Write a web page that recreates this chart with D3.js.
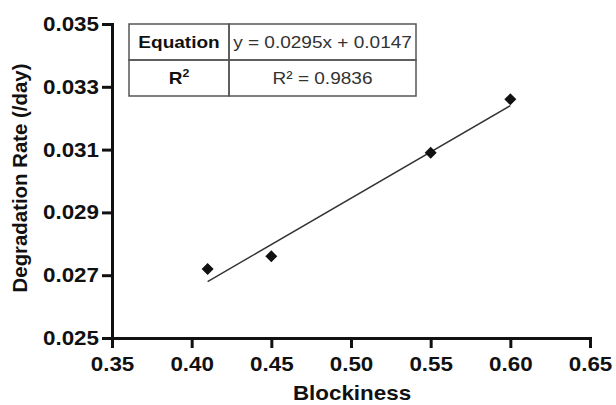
<!DOCTYPE html>
<html>
<head>
<meta charset="utf-8">
<script src="https://cdn.jsdelivr.net/npm/d3@7"></script>
<style>
  body { margin: 0; background: #fff; }
  text { font-family: "Liberation Sans", Arial, sans-serif; }
  .axis path, .axis line { stroke: #111; stroke-width: 3; }
  .axis text { font-size: 20px; font-weight: bold; fill: #111; }
  .cell { fill: none; stroke: #555; stroke-width: 1.5; }
</style>
</head>
<body>
<div id="chart"></div>
<script>
// blockiness vs degradation rate, with linear fit
var blockiness = [0.41, 0.45, 0.55, 0.60];
var rate = [0.0272, 0.0276, 0.0309, 0.0326];
var xTicks = [0.35, 0.40, 0.45, 0.50, 0.55, 0.60, 0.65];
var yTicks = [0.025, 0.027, 0.029, 0.031, 0.033, 0.035];
var slope = 0.0295, intercept = 0.0147;
var tableRows = [["Equation", "y = 0.0295x + 0.0147"], ["R2", "R\u00b2 = 0.9836"]];

var W = 616, H = 405;
var stretch = 1.12; // source figure is a bit wide

var svg = d3.select("#chart").append("svg")
  .attr("width", W).attr("height", H);

var x = d3.scaleLinear().domain([0.35, 0.65]).range([112, 590]);
var y = d3.scaleLinear().domain([0.025, 0.035]).range([338, 24]);

// y axis
var gy = svg.append("g").attr("class", "axis")
  .attr("transform", "translate(112,0)")
  .call(d3.axisLeft(y).tickValues(yTicks).tickFormat(d3.format(".3f"))
    .tickSize(10).tickSizeOuter(0).tickPadding(3));
gy.selectAll("text").attr("transform", "scale(" + stretch + ",1)")
  .attr("x", -13 / stretch);

// x axis
var gx = svg.append("g").attr("class", "axis")
  .attr("transform", "translate(0,338)")
  .call(d3.axisBottom(x).tickValues(xTicks).tickFormat(d3.format(".2f"))
    .tickSize(10).tickSizeOuter(0).tickPadding(9));
gx.selectAll("text").attr("transform", "scale(" + stretch + ",1)");
gx.select(".domain").attr("stroke-linecap", "square");
gy.select(".domain").attr("stroke-linecap", "square");

// axis titles
svg.append("text")
  .attr("transform", "translate(27,178) rotate(-90)")
  .attr("text-anchor", "middle")
  .style("font-size", "20.4px").style("font-weight", "bold").style("fill", "#111")
  .text("Degradation Rate (/day)");

svg.append("text")
  .attr("transform", "translate(352,400) scale(" + stretch + ",1)")
  .attr("text-anchor", "middle")
  .style("font-size", "20px").style("font-weight", "bold").style("fill", "#111")
  .text("Blockiness");

// fit line
var fitX = [d3.min(blockiness), d3.max(blockiness)];
svg.append("path")
  .datum(fitX)
  .attr("fill", "none").attr("stroke", "#333").attr("stroke-width", 1.5)
  .attr("d", d3.line().x(function(d){ return x(d); })
    .y(function(d){ return y(slope * d + intercept); }));

// points
svg.append("g").selectAll("path")
  .data(blockiness)
  .enter().append("path")
  .attr("transform", function(d, i){
    return "translate(" + x(d) + "," + y(rate[i]) + ") rotate(45)";
  })
  .attr("d", d3.symbol().type(d3.symbolSquare).size(72))
  .attr("fill", "#111");

// equation table
var tx = [129, 229, 416], ty = [24, 60, 96];
var table = svg.append("g");
tableRows.forEach(function(row, r){
  row.forEach(function(cell, c){
    table.append("rect").attr("class", "cell")
      .attr("x", tx[c]).attr("y", ty[r])
      .attr("width", tx[c+1] - tx[c]).attr("height", ty[r+1] - ty[r]);
    var t = table.append("text")
      .attr("transform", "translate(" + (tx[c] + tx[c+1]) / 2 + "," + ((ty[r] + ty[r+1]) / 2 + 6) + ") scale(" + stretch + ",1)")
      .attr("text-anchor", "middle")
      .style("font-size", "17px")
      .style("font-weight", c == 0 ? "bold" : "normal")
      .style("fill", c == 0 ? "#111" : "#333");
    if (cell == "R2") {
      t.append("tspan").text("R");
      t.append("tspan").attr("dy", -7).style("font-size", "11px").text("2");
    } else {
      t.text(cell);
    }
  });
});
</script>
</body>
</html>
